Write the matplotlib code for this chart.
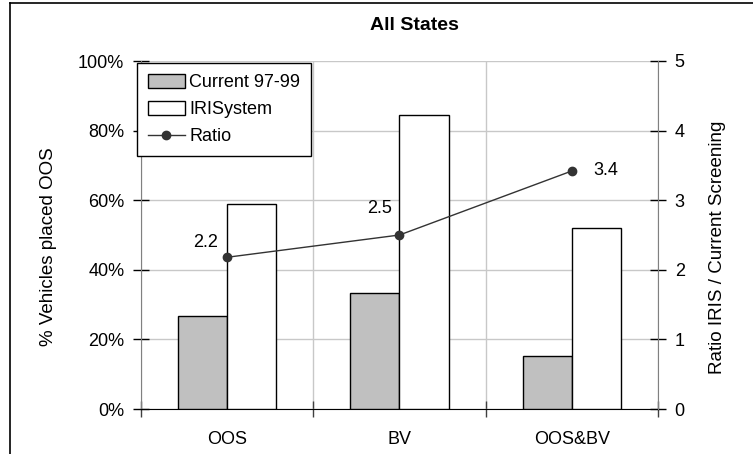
import matplotlib
matplotlib.use("Agg")
import matplotlib.pyplot as plt
from matplotlib.patches import Patch
from matplotlib.lines import Line2D

plt.rcParams["font.family"] = ["Liberation Sans", "DejaVu Sans"]

# Data
categories = ["OOS", "BV", "OOS&BV"]
current = [26.7, 33.4, 15.2]      # % Current 97-99
iris = [58.9, 84.5, 52.0]         # % IRISystem
ratio = [2.18, 2.50, 3.42]        # Ratio IRIS / Current screening
ratio_labels = ["2.2", "2.5", "3.4"]

fig = plt.figure(figsize=(7.53, 4.54), dpi=100)
ax = fig.add_axes([141 / 753, 1 - 409 / 454, 517 / 753, 348 / 454])

x = list(range(len(categories)))
w = 0.285
ax.bar(x, current, width=-w, align="edge", color="#c0c0c0", edgecolor="black", linewidth=1, zorder=3)
ax.bar(x, iris, width=w, align="edge", color="white", edgecolor="black", linewidth=1, zorder=3)

ax.set_xlim(-0.5, 2.5)
ax.set_ylim(0, 100)
ax.set_yticks(range(0, 101, 20))
ax.set_yticklabels([f"{v}%" for v in range(0, 101, 20)])
ax.set_xticks([-0.5, 0.5, 1.5, 2.5])
ax.set_xticklabels([])
ax.set_xticks(x, minor=True)
ax.set_xticklabels(categories, minor=True)
ax.tick_params(axis="x", which="minor", length=0, pad=16, labelsize=13)
ax.tick_params(axis="x", which="major", direction="inout", length=12, width=1, color="#404040")
ax.tick_params(axis="y", direction="inout", length=12, width=1, color="black", labelsize=13, pad=6)
ax.grid(True, which="major", color="#c8c8c8", linewidth=1, zorder=0)
ax.set_axisbelow(True)
ax.spines["top"].set_visible(False)
ax.spines["right"].set_visible(False)
ax.spines["left"].set_color("#808080")
ax.spines["bottom"].set_color("black")
ax.set_ylabel("% Vehicles placed OOS", fontsize=13.5)
ax.yaxis.set_label_coords(-0.162, 0.466)

ax2 = ax.twinx()
ax2.set_ylim(0, 5)
ax2.set_yticks(range(0, 6))
ax2.plot(x, ratio, color="#333333", linewidth=1, marker="o", markersize=6, zorder=5)
offsets = [(-22, 15), (-20, 26), (34, 0)]
for xi, yi, lab, off in zip(x, ratio, ratio_labels, offsets):
    ax2.annotate(lab, (xi, yi), xytext=off, textcoords="offset pixels",
                 ha="center", va="center", fontsize=13)
ax2.tick_params(axis="y", direction="inout", length=12, width=1, color="black", labelsize=13, pad=6)
for s in ["top", "left", "bottom"]:
    ax2.spines[s].set_visible(False)
ax2.spines["right"].set_color("#808080")
ax2.set_ylabel("Ratio IRIS / Current Screening", fontsize=13.5)
ax2.yaxis.set_label_coords(1.099, 0.466)

fig.text(414 / 753, 1 - 26 / 454, "All States", ha="center", va="center", fontsize=14, fontweight="bold")

handles = [
    Patch(facecolor="#c0c0c0", edgecolor="black", label="Current 97-99"),
    Patch(facecolor="white", edgecolor="black", label="IRISystem"),
    Line2D([], [], color="#333333", marker="o", markersize=6, linewidth=1, label="Ratio"),
]
leg = fig.legend(handles=handles, loc="upper left", bbox_to_anchor=(137 / 753, 1 - 63 / 454),
                 fancybox=False, framealpha=1, edgecolor="black", fontsize=13,
                 handlelength=2.05, handleheight=0.8, labelspacing=0.55, borderpad=0.6,
                 handletextpad=0.25, borderaxespad=0)
leg.get_frame().set_linewidth(1)

# outer chart frame
fig.add_artist(Line2D([10 / 753, 10 / 753], [0, 1 - 3 / 454], color="black", linewidth=1.2))
fig.add_artist(Line2D([10 / 753, 1], [1 - 3 / 454, 1 - 3 / 454], color="black", linewidth=1.2))

fig.savefig("out.png", dpi=100)
